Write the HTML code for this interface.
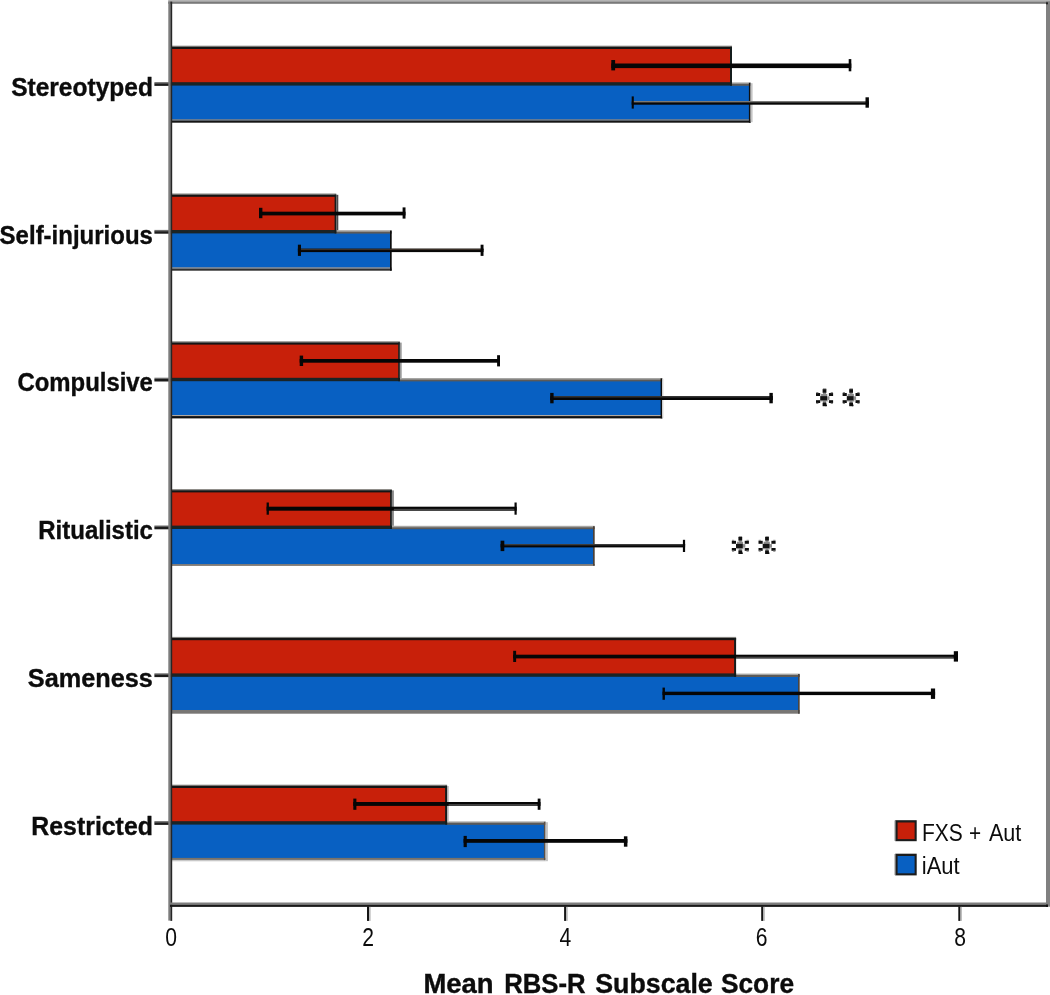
<!DOCTYPE html>
<html><head><meta charset="utf-8"><title>chart</title>
<style>
html,body{margin:0;padding:0;background:#fff;overflow:hidden;}
#wrap{position:absolute;left:0;top:0;width:1050px;height:995px;overflow:hidden;background:#fff;}
body{width:1050px;height:995px;overflow:hidden;position:relative;font-family:"Liberation Sans",sans-serif;}
svg{position:absolute;left:-10px;top:-10px;display:block;filter:blur(0.55px);}
text{font-family:"Liberation Sans",sans-serif;fill:#0c0c0c;}
</style></head><body>
<div id="wrap">
<svg width="1070" height="1015" viewBox="-10 -10 1070 1015">
<rect x="-10" y="-10" width="1070" height="1015" fill="#ffffff"/>
<g id="plot">
<rect x="168.20" y="-6.00" width="890.00" height="7.40" fill="#b4b4b4"/>
<rect x="168.20" y="1.40" width="890.00" height="2.40" fill="#7a7a7a"/>
<rect x="1046.00" y="1.40" width="12.00" height="905.30" fill="#808080"/>
<rect x="1046.00" y="2.30" width="2.00" height="2.00" fill="#222"/>
<rect x="171.00" y="47.80" width="560.00" height="36.00" fill="#C8200A"/>
<rect x="171.00" y="84.80" width="578.60" height="36.00" fill="#0860C2"/>
<rect x="731.00" y="82.40" width="19.60" height="1.60" fill="#a6a6a4"/>
<rect x="731.00" y="83.80" width="19.60" height="2.00" fill="#5c5a58"/>
<rect x="171.00" y="119.30" width="579.60" height="1.50" fill="#8a8680"/>
<rect x="171.00" y="120.70" width="579.60" height="2.00" fill="#151515"/>
<rect x="748.90" y="82.80" width="1.70" height="39.90" fill="#111"/>
<rect x="750.60" y="83.20" width="2.00" height="39.00" fill="#c4c4c4"/>
<rect x="171.00" y="45.70" width="561.00" height="1.20" fill="#84827e"/>
<rect x="171.00" y="46.80" width="561.00" height="2.20" fill="#151515"/>
<rect x="171.00" y="82.20" width="561.00" height="3.40" fill="#1a2426"/>
<rect x="730.00" y="46.80" width="2.00" height="38.80" fill="#141c1c"/>
<rect x="611.30" y="63.50" width="240.00" height="4.60" fill="#060606"/>
<rect x="611.30" y="60.00" width="3.80" height="10.40" fill="#060606"/>
<rect x="848.70" y="59.10" width="2.60" height="12.20" fill="#060606"/>
<rect x="631.70" y="101.00" width="237.20" height="3.70" fill="#060606"/>
<rect x="631.70" y="101.00" width="237.20" height="1.40" fill="#7a7a78"/>
<rect x="631.70" y="96.40" width="2.10" height="12.20" fill="#060606"/>
<rect x="865.50" y="97.30" width="3.40" height="10.40" fill="#060606"/>
<rect x="154.40" y="82.10" width="15.80" height="1.60" fill="#6e6e6e"/>
<rect x="154.40" y="83.40" width="15.80" height="2.50" fill="#1c1c1c"/>
<text transform="translate(152.90,96.10) scale(1.0220,1.0700)" style="font-size:24px;font-weight:bold;stroke:#0c0c0c;stroke-width:0.35px;text-anchor:end">Stereotyped</text>
<rect x="171.00" y="195.60" width="164.30" height="36.00" fill="#C8200A"/>
<rect x="171.00" y="232.60" width="219.70" height="36.00" fill="#0860C2"/>
<rect x="335.30" y="230.20" width="56.40" height="1.60" fill="#a6a6a4"/>
<rect x="335.30" y="231.60" width="56.40" height="2.00" fill="#5c5a58"/>
<rect x="171.00" y="267.30" width="220.70" height="1.50" fill="#9a9894"/>
<rect x="171.00" y="268.70" width="220.70" height="2.00" fill="#303030"/>
<rect x="390.00" y="230.60" width="1.70" height="40.10" fill="#0c0c0c"/>
<rect x="171.00" y="193.50" width="165.30" height="1.20" fill="#84827e"/>
<rect x="171.00" y="194.60" width="165.30" height="2.20" fill="#151515"/>
<rect x="171.00" y="230.00" width="165.30" height="3.40" fill="#1a2426"/>
<rect x="334.60" y="194.60" width="1.70" height="38.80" fill="#141c1c"/>
<rect x="336.30" y="194.80" width="2.00" height="35.40" fill="#4a4a4a"/>
<rect x="259.00" y="211.70" width="146.50" height="3.70" fill="#060606"/>
<rect x="259.00" y="207.80" width="3.40" height="10.40" fill="#060606"/>
<rect x="402.60" y="207.40" width="2.90" height="11.20" fill="#060606"/>
<rect x="297.90" y="248.70" width="185.60" height="3.40" fill="#060606"/>
<rect x="297.90" y="248.70" width="185.60" height="1.40" fill="#3a3028"/>
<rect x="297.90" y="244.70" width="3.10" height="11.20" fill="#060606"/>
<rect x="480.60" y="244.70" width="2.90" height="11.20" fill="#060606"/>
<rect x="154.40" y="229.90" width="15.80" height="1.60" fill="#6e6e6e"/>
<rect x="154.40" y="231.20" width="15.80" height="2.50" fill="#1c1c1c"/>
<text transform="translate(152.90,243.60) scale(1.0000,1.0700)" style="font-size:24px;font-weight:bold;stroke:#0c0c0c;stroke-width:0.35px;text-anchor:end">Self-injurious</text>
<rect x="171.00" y="343.40" width="227.90" height="36.00" fill="#C8200A"/>
<rect x="171.00" y="380.40" width="490.30" height="36.00" fill="#0860C2"/>
<rect x="398.90" y="378.00" width="263.40" height="1.60" fill="#a6a6a4"/>
<rect x="398.90" y="379.40" width="263.40" height="2.00" fill="#5c5a58"/>
<rect x="171.00" y="415.00" width="491.30" height="1.20" fill="#b0a8a0"/>
<rect x="171.00" y="416.10" width="491.30" height="2.30" fill="#101010"/>
<rect x="660.60" y="378.40" width="1.70" height="40.00" fill="#0c0c0c"/>
<rect x="662.30" y="378.80" width="1.20" height="39.00" fill="#dddddd"/>
<rect x="171.00" y="341.30" width="228.90" height="1.20" fill="#84827e"/>
<rect x="171.00" y="342.40" width="228.90" height="2.20" fill="#151515"/>
<rect x="171.00" y="377.80" width="228.90" height="3.40" fill="#1a2426"/>
<rect x="398.20" y="342.40" width="1.70" height="38.80" fill="#141c1c"/>
<rect x="399.90" y="342.60" width="1.80" height="35.40" fill="#9a9a9a"/>
<rect x="299.70" y="359.00" width="200.30" height="3.70" fill="#060606"/>
<rect x="299.70" y="355.60" width="3.40" height="10.40" fill="#060606"/>
<rect x="497.10" y="355.20" width="2.90" height="11.20" fill="#060606"/>
<rect x="550.20" y="396.10" width="222.60" height="3.90" fill="#060606"/>
<rect x="550.20" y="396.10" width="222.60" height="1.40" fill="#383838"/>
<rect x="550.20" y="392.90" width="3.40" height="10.40" fill="#060606"/>
<rect x="769.40" y="392.90" width="3.40" height="10.40" fill="#060606"/>
<rect x="154.40" y="377.70" width="15.80" height="1.60" fill="#6e6e6e"/>
<rect x="154.40" y="379.00" width="15.80" height="2.50" fill="#1c1c1c"/>
<text transform="translate(152.90,391.40) scale(0.9960,1.0700)" style="font-size:24px;font-weight:bold;stroke:#0c0c0c;stroke-width:0.35px;text-anchor:end">Compulsive</text>
<rect x="171.00" y="491.20" width="219.90" height="36.00" fill="#C8200A"/>
<rect x="171.00" y="528.20" width="422.70" height="36.00" fill="#0860C2"/>
<rect x="390.90" y="525.80" width="203.80" height="1.60" fill="#a6a6a4"/>
<rect x="390.90" y="527.20" width="203.80" height="2.00" fill="#5c5a58"/>
<rect x="171.00" y="564.30" width="423.70" height="1.40" fill="#5a5048"/>
<rect x="593.00" y="526.20" width="1.70" height="39.50" fill="#4a4038"/>
<rect x="171.00" y="489.10" width="220.90" height="1.20" fill="#84827e"/>
<rect x="171.00" y="490.20" width="220.90" height="2.20" fill="#151515"/>
<rect x="171.00" y="525.60" width="220.90" height="3.40" fill="#1a2426"/>
<rect x="390.10" y="490.20" width="1.80" height="38.80" fill="#141c1c"/>
<rect x="391.90" y="490.40" width="2.00" height="35.40" fill="#8a8a8a"/>
<rect x="266.60" y="506.70" width="250.10" height="4.00" fill="#060606"/>
<rect x="393.90" y="508.80" width="120.60" height="1.90" fill="#444"/>
<rect x="266.60" y="502.50" width="2.30" height="12.20" fill="#060606"/>
<rect x="514.50" y="502.50" width="2.20" height="12.20" fill="#060606"/>
<rect x="500.60" y="544.00" width="184.50" height="3.40" fill="#060606"/>
<rect x="500.60" y="544.00" width="184.50" height="1.40" fill="#3c3c3c"/>
<rect x="500.60" y="540.70" width="3.70" height="10.40" fill="#060606"/>
<rect x="682.90" y="539.80" width="2.20" height="12.20" fill="#060606"/>
<rect x="154.40" y="525.50" width="15.80" height="1.60" fill="#6e6e6e"/>
<rect x="154.40" y="526.80" width="15.80" height="2.50" fill="#1c1c1c"/>
<text transform="translate(152.90,539.20) scale(1.0000,1.0700)" style="font-size:24px;font-weight:bold;stroke:#0c0c0c;stroke-width:0.35px;text-anchor:end">Ritualistic</text>
<rect x="171.00" y="639.00" width="564.10" height="36.00" fill="#C8200A"/>
<rect x="171.00" y="676.00" width="627.70" height="36.00" fill="#0860C2"/>
<rect x="735.10" y="673.60" width="64.60" height="1.60" fill="#a6a6a4"/>
<rect x="735.10" y="675.00" width="64.60" height="2.00" fill="#5c5a58"/>
<rect x="171.00" y="710.00" width="628.70" height="3.70" fill="#787674"/>
<rect x="798.00" y="674.00" width="1.70" height="39.70" fill="#4a4540"/>
<rect x="171.00" y="636.90" width="565.10" height="1.20" fill="#84827e"/>
<rect x="171.00" y="638.00" width="565.10" height="2.20" fill="#151515"/>
<rect x="171.00" y="673.40" width="565.10" height="3.40" fill="#1a2426"/>
<rect x="734.10" y="638.00" width="2.00" height="38.80" fill="#141c1c"/>
<rect x="513.20" y="654.70" width="444.80" height="3.70" fill="#060606"/>
<rect x="736.10" y="656.65" width="217.70" height="1.75" fill="#444"/>
<rect x="513.20" y="650.80" width="2.90" height="11.20" fill="#060606"/>
<rect x="953.80" y="651.20" width="4.20" height="10.40" fill="#060606"/>
<rect x="662.50" y="691.70" width="272.60" height="3.40" fill="#060606"/>
<rect x="662.50" y="687.60" width="2.40" height="12.20" fill="#060606"/>
<rect x="930.90" y="688.50" width="4.20" height="10.40" fill="#060606"/>
<rect x="154.40" y="673.30" width="15.80" height="1.60" fill="#6e6e6e"/>
<rect x="154.40" y="674.60" width="15.80" height="2.50" fill="#1c1c1c"/>
<text transform="translate(152.90,687.00) scale(1.0540,1.0700)" style="font-size:24px;font-weight:bold;stroke:#0c0c0c;stroke-width:0.35px;text-anchor:end">Sameness</text>
<rect x="171.00" y="786.80" width="275.10" height="36.00" fill="#C8200A"/>
<rect x="171.00" y="823.80" width="373.60" height="36.00" fill="#0860C2"/>
<rect x="446.10" y="821.40" width="99.50" height="1.60" fill="#a6a6a4"/>
<rect x="446.10" y="822.80" width="99.50" height="2.00" fill="#5c5a58"/>
<rect x="171.00" y="857.90" width="374.60" height="2.00" fill="#7a7268"/>
<rect x="171.00" y="859.90" width="374.60" height="1.40" fill="#c8c8c8"/>
<rect x="543.90" y="821.80" width="1.70" height="38.30" fill="#5a5048"/>
<rect x="545.60" y="822.20" width="2.30" height="39.00" fill="#c4c4c4"/>
<rect x="171.00" y="784.70" width="276.10" height="1.20" fill="#84827e"/>
<rect x="171.00" y="785.80" width="276.10" height="2.20" fill="#151515"/>
<rect x="171.00" y="821.20" width="276.10" height="3.40" fill="#1a2426"/>
<rect x="445.10" y="785.80" width="2.00" height="38.80" fill="#141c1c"/>
<rect x="447.10" y="786.00" width="1.50" height="35.40" fill="#ababab"/>
<rect x="353.30" y="802.00" width="187.20" height="3.90" fill="#060606"/>
<rect x="448.60" y="804.05" width="89.10" height="1.85" fill="#444"/>
<rect x="353.30" y="798.60" width="3.10" height="11.20" fill="#060606"/>
<rect x="537.70" y="798.60" width="2.80" height="11.20" fill="#060606"/>
<rect x="463.60" y="839.00" width="163.80" height="3.80" fill="#060606"/>
<rect x="463.60" y="835.90" width="3.20" height="11.20" fill="#060606"/>
<rect x="623.90" y="836.30" width="3.50" height="10.40" fill="#060606"/>
<rect x="154.40" y="821.10" width="15.80" height="1.60" fill="#6e6e6e"/>
<rect x="154.40" y="822.40" width="15.80" height="2.50" fill="#1c1c1c"/>
<text transform="translate(152.90,834.80) scale(1.0360,1.0700)" style="font-size:24px;font-weight:bold;stroke:#0c0c0c;stroke-width:0.35px;text-anchor:end">Restricted</text>
<rect x="168.30" y="1.60" width="2.20" height="919.00" fill="#7c7c7c"/>
<rect x="170.40" y="1.60" width="1.80" height="919.30" fill="#262626"/>
<rect x="170.00" y="902.50" width="878.00" height="2.40" fill="#7e7e7e"/>
<rect x="170.00" y="904.80" width="878.00" height="2.10" fill="#1a1a1a"/>
<rect x="1046.00" y="904.60" width="2.00" height="2.30" fill="#111"/>
<text transform="translate(171.10,945.60) scale(0.9600,1.2000)" style="font-size:22px;text-anchor:middle">0</text>
<rect x="367.00" y="906.50" width="2.20" height="14.40" fill="#151515"/>
<rect x="369.20" y="906.90" width="1.40" height="14.00" fill="#b8b8b8"/>
<text transform="translate(368.20,945.60) scale(0.9600,1.2000)" style="font-size:22px;text-anchor:middle">2</text>
<rect x="564.10" y="906.50" width="2.20" height="14.40" fill="#151515"/>
<rect x="566.30" y="906.90" width="1.40" height="14.00" fill="#b8b8b8"/>
<text transform="translate(565.30,945.60) scale(0.9600,1.2000)" style="font-size:22px;text-anchor:middle">4</text>
<rect x="761.20" y="906.50" width="2.20" height="14.40" fill="#151515"/>
<rect x="763.40" y="906.90" width="1.40" height="14.00" fill="#b8b8b8"/>
<text transform="translate(761.60,945.60) scale(0.9600,1.2000)" style="font-size:22px;text-anchor:middle">6</text>
<rect x="958.30" y="906.50" width="2.20" height="14.40" fill="#151515"/>
<rect x="960.50" y="906.90" width="1.40" height="14.00" fill="#b8b8b8"/>
<text transform="translate(960.10,945.60) scale(0.9600,1.2000)" style="font-size:22px;text-anchor:middle">8</text>
</g>
<text transform="translate(423.40,993.10) scale(1.0770,1.0500)" style="font-size:25.5px;font-weight:bold;stroke:#0c0c0c;stroke-width:0.35px;text-anchor:start">Mean</text>
<text transform="translate(504.20,993.10) scale(1.0090,1.0500)" style="font-size:25.5px;font-weight:bold;stroke:#0c0c0c;stroke-width:0.35px;text-anchor:start">RBS-R</text>
<text transform="translate(595.20,993.10) scale(1.0500,1.0500)" style="font-size:25.5px;font-weight:bold;stroke:#0c0c0c;stroke-width:0.35px;text-anchor:start">Subscale</text>
<text transform="translate(721.00,993.10) scale(1.0300,1.0500)" style="font-size:25.5px;font-weight:bold;stroke:#0c0c0c;stroke-width:0.35px;text-anchor:start">Score</text>
<rect x="895.30" y="820.20" width="21.40" height="21.00" fill="#1c1c1c"/>
<rect x="894.60" y="820.50" width="1.20" height="20.40" fill="#777"/>
<rect x="897.60" y="822.50" width="17.00" height="16.60" fill="#C8200A"/>
<rect x="895.30" y="853.70" width="21.40" height="21.70" fill="#1c1c1c"/>
<rect x="894.60" y="854.00" width="1.20" height="21.10" fill="#777"/>
<rect x="897.60" y="856.00" width="17.00" height="17.30" fill="#0860C2"/>
<text transform="translate(921.90,840.70) scale(0.9540,1.0900)" style="font-size:22px;text-anchor:start">FXS</text>
<text transform="translate(968.90,840.70) scale(0.9450,1.0900)" style="font-size:22px;text-anchor:start">+</text>
<text transform="translate(988.90,840.70) scale(0.9820,1.0900)" style="font-size:22px;text-anchor:start">Aut</text>
<text transform="translate(921.80,873.80) scale(1.0000,1.0900)" style="font-size:22px;text-anchor:start">iAut</text>
<rect x="821.10" y="393.90" width="6.20" height="2.40" fill="#8a8a8a"/>
<rect x="826.70" y="396.30" width="2.80" height="3.60" fill="#8f8f8f"/>
<rect x="820.50" y="400.00" width="7.40" height="1.60" fill="#b0b0b0"/>
<rect x="822.90" y="388.20" width="3.40" height="1.60" fill="#9a9a9a"/>
<rect x="823.00" y="392.60" width="3.00" height="2.40" fill="#8c8c8c"/>
<rect x="823.00" y="400.60" width="3.00" height="2.40" fill="#8c8c8c"/>
<rect x="822.60" y="389.20" width="3.80" height="3.60" fill="#0e0e0e"/>
<rect x="816.00" y="393.00" width="4.20" height="3.00" fill="#0e0e0e"/>
<rect x="828.90" y="393.00" width="4.20" height="3.00" fill="#0e0e0e"/>
<rect x="820.20" y="396.10" width="6.80" height="4.30" fill="#141414"/>
<rect x="816.00" y="400.20" width="4.20" height="2.80" fill="#0e0e0e"/>
<rect x="828.90" y="400.20" width="4.20" height="2.80" fill="#0e0e0e"/>
<rect x="822.60" y="402.60" width="3.80" height="3.60" fill="#0e0e0e"/>
<rect x="825.30" y="404.60" width="1.60" height="1.60" fill="#0e0e0e"/>
<rect x="816.20" y="392.00" width="2.20" height="1.20" fill="#8c8c8c"/>
<rect x="830.70" y="392.00" width="2.20" height="1.20" fill="#8c8c8c"/>
<rect x="816.20" y="402.80" width="2.20" height="1.20" fill="#8c8c8c"/>
<rect x="830.70" y="402.80" width="2.20" height="1.20" fill="#8c8c8c"/>
<rect x="847.70" y="393.90" width="6.20" height="2.40" fill="#8a8a8a"/>
<rect x="853.30" y="396.30" width="2.80" height="3.60" fill="#8f8f8f"/>
<rect x="847.10" y="400.00" width="7.40" height="1.60" fill="#b0b0b0"/>
<rect x="849.50" y="388.20" width="3.40" height="1.60" fill="#9a9a9a"/>
<rect x="849.60" y="392.60" width="3.00" height="2.40" fill="#8c8c8c"/>
<rect x="849.60" y="400.60" width="3.00" height="2.40" fill="#8c8c8c"/>
<rect x="849.20" y="389.20" width="3.80" height="3.60" fill="#0e0e0e"/>
<rect x="842.60" y="393.00" width="4.20" height="3.00" fill="#0e0e0e"/>
<rect x="855.50" y="393.00" width="4.20" height="3.00" fill="#0e0e0e"/>
<rect x="846.80" y="396.10" width="6.80" height="4.30" fill="#141414"/>
<rect x="842.60" y="400.20" width="4.20" height="2.80" fill="#0e0e0e"/>
<rect x="855.50" y="400.20" width="4.20" height="2.80" fill="#0e0e0e"/>
<rect x="849.20" y="402.60" width="3.80" height="3.60" fill="#0e0e0e"/>
<rect x="851.90" y="404.60" width="1.60" height="1.60" fill="#0e0e0e"/>
<rect x="842.80" y="392.00" width="2.20" height="1.20" fill="#8c8c8c"/>
<rect x="857.30" y="392.00" width="2.20" height="1.20" fill="#8c8c8c"/>
<rect x="842.80" y="402.80" width="2.20" height="1.20" fill="#8c8c8c"/>
<rect x="857.30" y="402.80" width="2.20" height="1.20" fill="#8c8c8c"/>
<rect x="736.90" y="541.70" width="6.20" height="2.40" fill="#8a8a8a"/>
<rect x="742.50" y="544.10" width="2.80" height="3.60" fill="#8f8f8f"/>
<rect x="736.30" y="547.80" width="7.40" height="1.60" fill="#b0b0b0"/>
<rect x="738.70" y="536.00" width="3.40" height="1.60" fill="#9a9a9a"/>
<rect x="738.80" y="540.40" width="3.00" height="2.40" fill="#8c8c8c"/>
<rect x="738.80" y="548.40" width="3.00" height="2.40" fill="#8c8c8c"/>
<rect x="738.40" y="537.00" width="3.80" height="3.60" fill="#0e0e0e"/>
<rect x="731.80" y="540.80" width="4.20" height="3.00" fill="#0e0e0e"/>
<rect x="744.70" y="540.80" width="4.20" height="3.00" fill="#0e0e0e"/>
<rect x="736.00" y="543.90" width="6.80" height="4.30" fill="#141414"/>
<rect x="731.80" y="548.00" width="4.20" height="2.80" fill="#0e0e0e"/>
<rect x="744.70" y="548.00" width="4.20" height="2.80" fill="#0e0e0e"/>
<rect x="738.40" y="550.40" width="3.80" height="3.60" fill="#0e0e0e"/>
<rect x="741.10" y="552.40" width="1.60" height="1.60" fill="#0e0e0e"/>
<rect x="732.00" y="539.80" width="2.20" height="1.20" fill="#8c8c8c"/>
<rect x="746.50" y="539.80" width="2.20" height="1.20" fill="#8c8c8c"/>
<rect x="732.00" y="550.60" width="2.20" height="1.20" fill="#8c8c8c"/>
<rect x="746.50" y="550.60" width="2.20" height="1.20" fill="#8c8c8c"/>
<rect x="763.60" y="541.70" width="6.20" height="2.40" fill="#8a8a8a"/>
<rect x="769.20" y="544.10" width="2.80" height="3.60" fill="#8f8f8f"/>
<rect x="763.00" y="547.80" width="7.40" height="1.60" fill="#b0b0b0"/>
<rect x="765.40" y="536.00" width="3.40" height="1.60" fill="#9a9a9a"/>
<rect x="765.50" y="540.40" width="3.00" height="2.40" fill="#8c8c8c"/>
<rect x="765.50" y="548.40" width="3.00" height="2.40" fill="#8c8c8c"/>
<rect x="765.10" y="537.00" width="3.80" height="3.60" fill="#0e0e0e"/>
<rect x="758.50" y="540.80" width="4.20" height="3.00" fill="#0e0e0e"/>
<rect x="771.40" y="540.80" width="4.20" height="3.00" fill="#0e0e0e"/>
<rect x="762.70" y="543.90" width="6.80" height="4.30" fill="#141414"/>
<rect x="758.50" y="548.00" width="4.20" height="2.80" fill="#0e0e0e"/>
<rect x="771.40" y="548.00" width="4.20" height="2.80" fill="#0e0e0e"/>
<rect x="765.10" y="550.40" width="3.80" height="3.60" fill="#0e0e0e"/>
<rect x="767.80" y="552.40" width="1.60" height="1.60" fill="#0e0e0e"/>
<rect x="758.70" y="539.80" width="2.20" height="1.20" fill="#8c8c8c"/>
<rect x="773.20" y="539.80" width="2.20" height="1.20" fill="#8c8c8c"/>
<rect x="758.70" y="550.60" width="2.20" height="1.20" fill="#8c8c8c"/>
<rect x="773.20" y="550.60" width="2.20" height="1.20" fill="#8c8c8c"/>
</svg>
</div>
</body></html>
